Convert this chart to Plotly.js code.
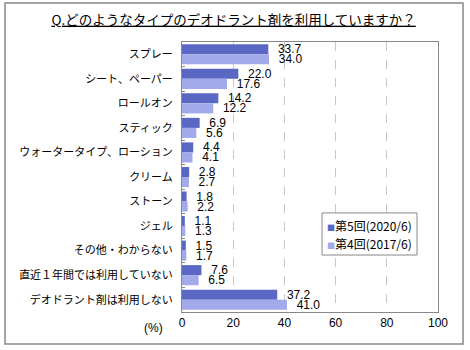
<!DOCTYPE html>
<html>
<head>
<meta charset="utf-8">
<script src="https://cdn.plot.ly/plotly-3.0.1.min.js"></script>
<style>
  html, body { margin: 0; padding: 0; background: #fff; }
  #chart { width: 470px; height: 350px; }
</style>
</head>
<body>
<div id="chart"></div>
<script>
const categories = [
  "スプレー",
  "シート、ペーパー",
  "ロールオン",
  "スティック",
  "ウォータータイプ、ローション",
  "クリーム",
  "ストーン",
  "ジェル",
  "その他・わからない",
  "直近１年間では利用していない",
  "デオドラント剤は利用しない"
];
const series2020 = [33.7, 22.0, 14.2, 6.9, 4.4, 2.8, 1.8, 1.1, 1.5, 7.6, 37.2];
const series2017 = [34.0, 17.6, 12.2, 5.6, 4.1, 2.7, 2.2, 1.3, 1.7, 6.5, 41.0];
const seriesNames = ["第5回(2020/6)", "第4回(2017/6)"];
const seriesColors = ["#5a68c4", "#a2aaea"];
const xTicks = [0, 20, 40, 60, 80, 100];

const numFont = { family: "Liberation Sans, Arial, sans-serif", size: 12, color: "#000" };
const jpFont = "Noto Sans CJK JP, sans-serif";

const traces = [series2020, series2017].map((vals, i) => ({
  type: "bar", orientation: "h",
  name: seriesNames[i], y: categories, x: vals,
  marker: { color: seriesColors[i], line: { width: 0 } },
  text: vals.map(v => v.toFixed(1)),
  texttemplate: "  %{text}",
  textposition: "outside", constraintext: "none", cliponaxis: false,
  textfont: numFont,
  showlegend: false,
  hoverinfo: "skip"
}));

const legendAnnotations = seriesNames.map((name, i) => ({
  text: "<span style='font-size:8px;color:" + seriesColors[i] + "'>■</span>" + name,
  xref: "paper", yref: "paper",
  x: 0.56, y: i === 0 ? 0.322 : 0.252,
  xanchor: "left", yanchor: "middle", showarrow: false,
  font: { family: jpFont, size: 12, color: "#000" }
}));

const layout = {
  width: 470, height: 350,
  margin: { l: 182, r: 32, t: 42, b: 38, pad: 0 },
  paper_bgcolor: "#fff", plot_bgcolor: "#fff",
  barmode: "group",
  bargap: 0.18, bargroupgap: 0,
  showlegend: false,
  title: {
    text: "<u>Q.どのようなタイプのデオドラント剤を利用していますか？</u>",
    font: { family: jpFont, size: 13.5, color: "#000" },
    xref: "container", x: 0.497, xanchor: "center",
    yref: "container", y: 0.943, yanchor: "middle"
  },
  xaxis: {
    range: [0, 100], tickvals: xTicks, ticktext: xTicks.map(String),
    showgrid: true, gridcolor: "#c8c8c8", griddash: "dash", gridwidth: 1,
    zeroline: false,
    showline: true, mirror: true, linecolor: "#888", linewidth: 1,
    ticks: "", tickfont: { family: "Liberation Sans, Arial, sans-serif", size: 12, color: "#000" },
    fixedrange: true
  },
  yaxis: {
    autorange: "reversed", type: "category",
    showgrid: false, zeroline: false,
    showline: true, mirror: true, linecolor: "#888", linewidth: 1,
    ticks: "inside", tickson: "boundaries", ticklen: 3, tickcolor: "#888",
    tickfont: { family: jpFont, size: 11, color: "#000" },
    ticklabelstandoff: 6,
    fixedrange: true
  },
  annotations: [
    {
      text: "(%)", xref: "paper", yref: "paper", x: -0.113, y: -0.06,
      xanchor: "center", yanchor: "middle", showarrow: false,
      font: { family: "Liberation Sans, Arial, sans-serif", size: 12, color: "#000" }
    }
  ].concat(legendAnnotations),
  shapes: [
    {
      type: "rect", xref: "paper", yref: "paper",
      x0: -0.6914, x1: 1.0977, y0: -0.1185, y1: 1.1444,
      line: { color: "#888", width: 1.5 }, fillcolor: "rgba(0,0,0,0)", layer: "below"
    },
    {
      type: "rect", xref: "paper", yref: "paper",
      x0: 0.547, x1: 0.918, y0: 0.211, y1: 0.367,
      line: { color: "#888", width: 1 }, fillcolor: "#fff", layer: "above"
    }
  ]
};

Plotly.newPlot("chart", traces, layout, { displayModeBar: false, staticPlot: true });
</script>
</body>
</html>
